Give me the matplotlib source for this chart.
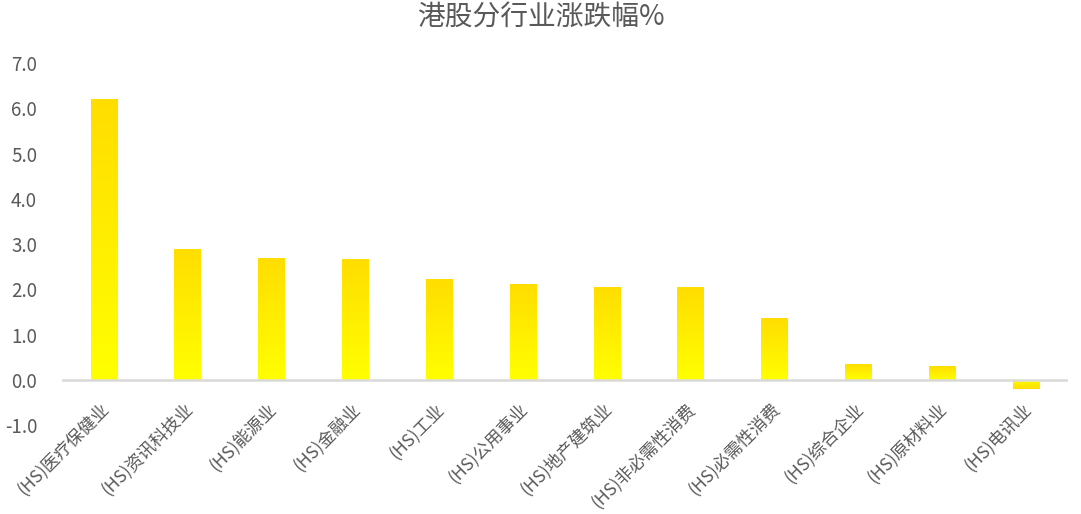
import numpy as np
import matplotlib
matplotlib.use("Agg")
import matplotlib.pyplot as plt
from matplotlib.colors import LinearSegmentedColormap

plt.rcParams['font.family'] = ['Noto Sans CJK SC', 'DejaVu Sans']

# data
sectors = ['(HS)医疗保健业', '(HS)资讯科技业', '(HS)能源业', '(HS)金融业', '(HS)工业',
           '(HS)公用事业', '(HS)地产建筑业', '(HS)非必需性消费', '(HS)必需性消费',
           '(HS)综合企业', '(HS)原材料业', '(HS)电讯业']
changes = [6.22, 2.90, 2.70, 2.68, 2.22, 2.13, 2.06, 2.06, 1.36, 0.36, 0.30, -0.21]
yticks = [-1.0, 0.0, 1.0, 2.0, 3.0, 4.0, 5.0, 6.0, 7.0]

text_col = '#595959'
fig = plt.figure(figsize=(10.81, 5.14), dpi=100)
ax = fig.add_axes([0.0574, 0.173, 0.9306, 0.704])

x = np.arange(len(sectors))
bars = ax.bar(x, changes, width=0.32, color='none', edgecolor='none', zorder=2)

# vertical gradient: gold at top, bright yellow at bottom
cmap = LinearSegmentedColormap.from_list('gy', ['#FFFF00', '#FFDD00'])
grad = np.linspace(0, 1, 256).reshape(-1, 1)
for b in bars:
    x0, y0 = b.get_x(), b.get_y()
    w, h = b.get_width(), b.get_height()
    ylo, yhi = min(y0, y0 + h), max(y0, y0 + h)
    g = grad if h >= 0 else grad[::-1]
    im = ax.imshow(g, extent=[x0, x0 + w, ylo, yhi], origin='lower', cmap=cmap,
                   aspect='auto', zorder=2, interpolation='bilinear')
    im.set_clip_path(b)

ax.axhline(0, color='#D9D9D9', lw=1.8, zorder=3)
ax.set_xlim(-0.5, len(sectors) - 0.5)
ax.set_ylim(-1.0, 7.0)
ax.set_yticks(yticks)
ax.set_yticklabels(['{:.1f}'.format(v) for v in yticks], fontsize=13.5, color=text_col)
ax.set_xticks([])
# category labels sit just under the zero line, like the reference
for xi, lab in zip(x, sectors):
    ax.annotate(lab, xy=(xi, 0), xytext=(1.5, -19), textcoords='offset points',
                rotation=45, rotation_mode='anchor', ha='right', va='center',
                fontsize=12.5, color=text_col)
for s in ax.spines.values():
    s.set_visible(False)
ax.tick_params(axis='both', length=0)
ax.tick_params(axis='y', pad=18)

fig.suptitle('港股分行业涨跌幅%', fontsize=20, color=text_col, y=0.995)
fig.savefig('out.png', dpi=100)
